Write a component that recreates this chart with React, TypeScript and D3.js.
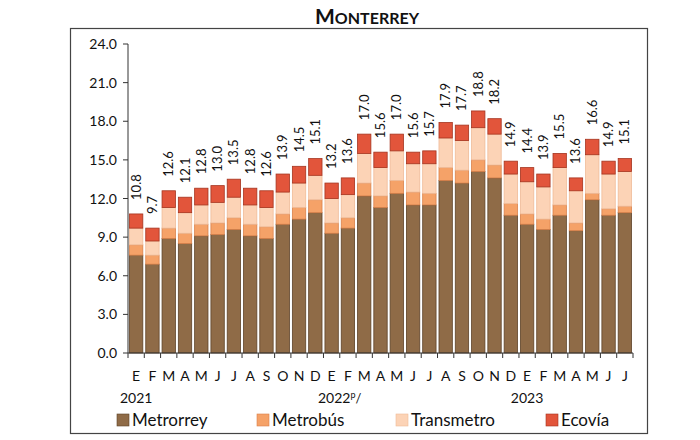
import React from 'react';
import * as d3 from 'd3';

// monthly passengers (millions) by system, Jan 2021 - Jul 2023
const months = [
    'E', 'F', 'M', 'A', 'M', 'J', 'J', 'A', 'S', 'O', 'N', 'D',
    'E', 'F', 'M', 'A', 'M', 'J', 'J', 'A', 'S', 'O', 'N', 'D',
    'E', 'F', 'M', 'A', 'M', 'J', 'J',
];
const metrorrey = [
    7.6, 6.9, 8.9, 8.5, 9.1, 9.2, 9.6, 9.1, 8.9, 10.0, 10.4, 10.9,
    9.3, 9.7, 12.2, 11.3, 12.4, 11.5, 11.5, 13.4, 13.2, 14.1, 13.6, 10.7,
    10.0, 9.6, 10.7, 9.5, 11.9, 10.7, 10.9,
];
const metrobus = [
    0.8, 0.7, 0.8, 0.8, 0.9, 0.9, 0.9, 0.9, 0.9, 0.8, 0.9, 1.0,
    0.8, 0.8, 1.0, 0.9, 1.0, 1.0, 0.9, 1.0, 1.0, 0.9, 1.0, 0.9,
    0.8, 0.8, 0.8, 0.6, 0.5, 0.5, 0.5,
];
const transmetro = [
    1.3, 1.1, 1.6, 1.6, 1.5, 1.6, 1.6, 1.5, 1.5, 1.7, 1.9, 1.9,
    1.9, 1.8, 2.3, 2.2, 2.3, 2.2, 2.3, 2.3, 2.3, 2.5, 2.4, 2.3,
    2.5, 2.5, 2.9, 2.5, 3.0, 2.7, 2.7,
];
const ecovia = [
    1.1, 1.0, 1.3, 1.2, 1.3, 1.3, 1.4, 1.3, 1.3, 1.4, 1.3, 1.3,
    1.2, 1.3, 1.5, 1.2, 1.3, 0.9, 1.0, 1.2, 1.2, 1.3, 1.2, 1.0,
    1.1, 1.0, 1.1, 1.0, 1.2, 1.0, 1.0,
];
const totals = [
    10.8, 9.7, 12.6, 12.1, 12.8, 13.0, 13.5, 12.8, 12.6, 13.9, 14.5, 15.1,
    13.2, 13.6, 17.0, 15.6, 17.0, 15.6, 15.7, 17.9, 17.7, 18.8, 18.2, 14.9,
    14.4, 13.9, 15.5, 13.6, 16.6, 14.9, 15.1,
];
const years = ['2021', '2022', '2023'];
const yearIndex = [0, 12, 24];
const yTicks = [0, 3, 6, 9, 12, 15, 18, 21, 24];

const seriesNames = ['Metrorrey', 'Metrobús', 'Transmetro', 'Ecovía'];
const fills = ['#8f6b47', '#f5a268', '#fcd3b6', '#e2553b'];
const strokes = ['#5e4329', '#d9814a', '#efbb98', '#a5341f'];

const font = 'Lato, "Liberation Sans", sans-serif';

export default function App() {
    const width = 700;
    const height = 440;
    const left = 128, right = 633, top = 44, bottom = 353;

    const rows = months.map((m, i) => ({
        i,
        Metrorrey: metrorrey[i],
        'Metrobús': metrobus[i],
        Transmetro: transmetro[i],
        'Ecovía': ecovia[i],
    }));
    const stacked = d3.stack<any>().keys(seriesNames)(rows);

    const x = d3.scaleBand<number>()
        .domain(months.map((_, i) => i))
        .range([left, right])
        .paddingInner(0.18)
        .paddingOuter(0.09);
    const y = d3.scaleLinear().domain([0, 24]).range([bottom, top]);

    const step = x.step();
    const boundaries = d3.range(months.length + 1).map((k) => left + k * step);

    const legendX = [117, 257, 396, 546];

    return (
        <svg width={width} height={height} style={{ position: 'absolute', left: 0, top: 0, background: '#fff' }}>
            {/* title */}
            <text x={367} y={24} textAnchor="middle" fontFamily={font} fontWeight="bold" fill="#111">
                <tspan fontSize={21}>M</tspan>
                <tspan fontSize={16}>ONTERREY</tspan>
            </text>
            <rect x={70.5} y={28.5} width={577} height={405} fill="none" stroke="#444" strokeWidth={1.2} />

            {/* bars */}
            {stacked.map((layer, si) => (
                <g key={si}>
                    {layer.map((d, i) => (
                        <rect key={i}
                            x={x(i)}
                            y={y(d[1])}
                            width={x.bandwidth()}
                            height={y(d[0]) - y(d[1])}
                            fill={fills[si]}
                            stroke={strokes[si]}
                            strokeWidth={0.8} />
                    ))}
                </g>
            ))}

            {/* total labels */}
            {totals.map((t, i) => {
                const cx = (x(i) as number) + x.bandwidth() / 2 + 4.5;
                const cy = y(stacked[3][i][1]) - 14;
                return (
                    <text key={i} transform={`translate(${cx},${cy}) rotate(-90)`}
                        fontFamily={font} fontSize={13} fill="#111">{t.toFixed(1)}</text>
                );
            })}

            {/* y axis */}
            <line x1={left} x2={left} y1={top} y2={bottom} stroke="#333" />
            {yTicks.map((t) => (
                <g key={t}>
                    <line x1={left - 5} x2={left} y1={y(t)} y2={y(t)} stroke="#333" />
                    <text x={left - 11} y={y(t) + 5} textAnchor="end" fontFamily={font} fontSize={14} fill="#111">
                        {t.toFixed(1)}
                    </text>
                </g>
            ))}

            {/* x axis */}
            <line x1={left} x2={right} y1={bottom} y2={bottom} stroke="#333" />
            {boundaries.map((bx, k) => (
                <line key={k} x1={bx} x2={bx} y1={bottom} y2={bottom + 5} stroke="#333" />
            ))}
            {months.map((m, i) => (
                <text key={i} x={(x(i) as number) + x.bandwidth() / 2} y={381} textAnchor="middle"
                    fontFamily={font} fontSize={14} fill="#111">{m}</text>
            ))}
            {years.map((yr, k) => (
                <text key={yr} x={(x(yearIndex[k]) as number) + x.bandwidth() / 2 + (k === 1 ? 8 : 0)} y={403}
                    textAnchor="middle" fontFamily={font} fontSize={14} fill="#111">
                    {yr}
                    {k === 1 && <tspan fontSize={9} dy={-5}>p</tspan>}
                    {k === 1 && <tspan fontSize={13} dy={5}>/</tspan>}
                </text>
            ))}

            {/* legend */}
            {seriesNames.map((s, si) => (
                <g key={s}>
                    <rect x={legendX[si]} y={414} width={12} height={12} fill={fills[si]} stroke={strokes[si]} strokeWidth={0.6} />
                    <text x={legendX[si] + 15} y={426} fontFamily={font} fontSize={17} fill="#111">{s}</text>
                </g>
            ))}
        </svg>
    );
}
